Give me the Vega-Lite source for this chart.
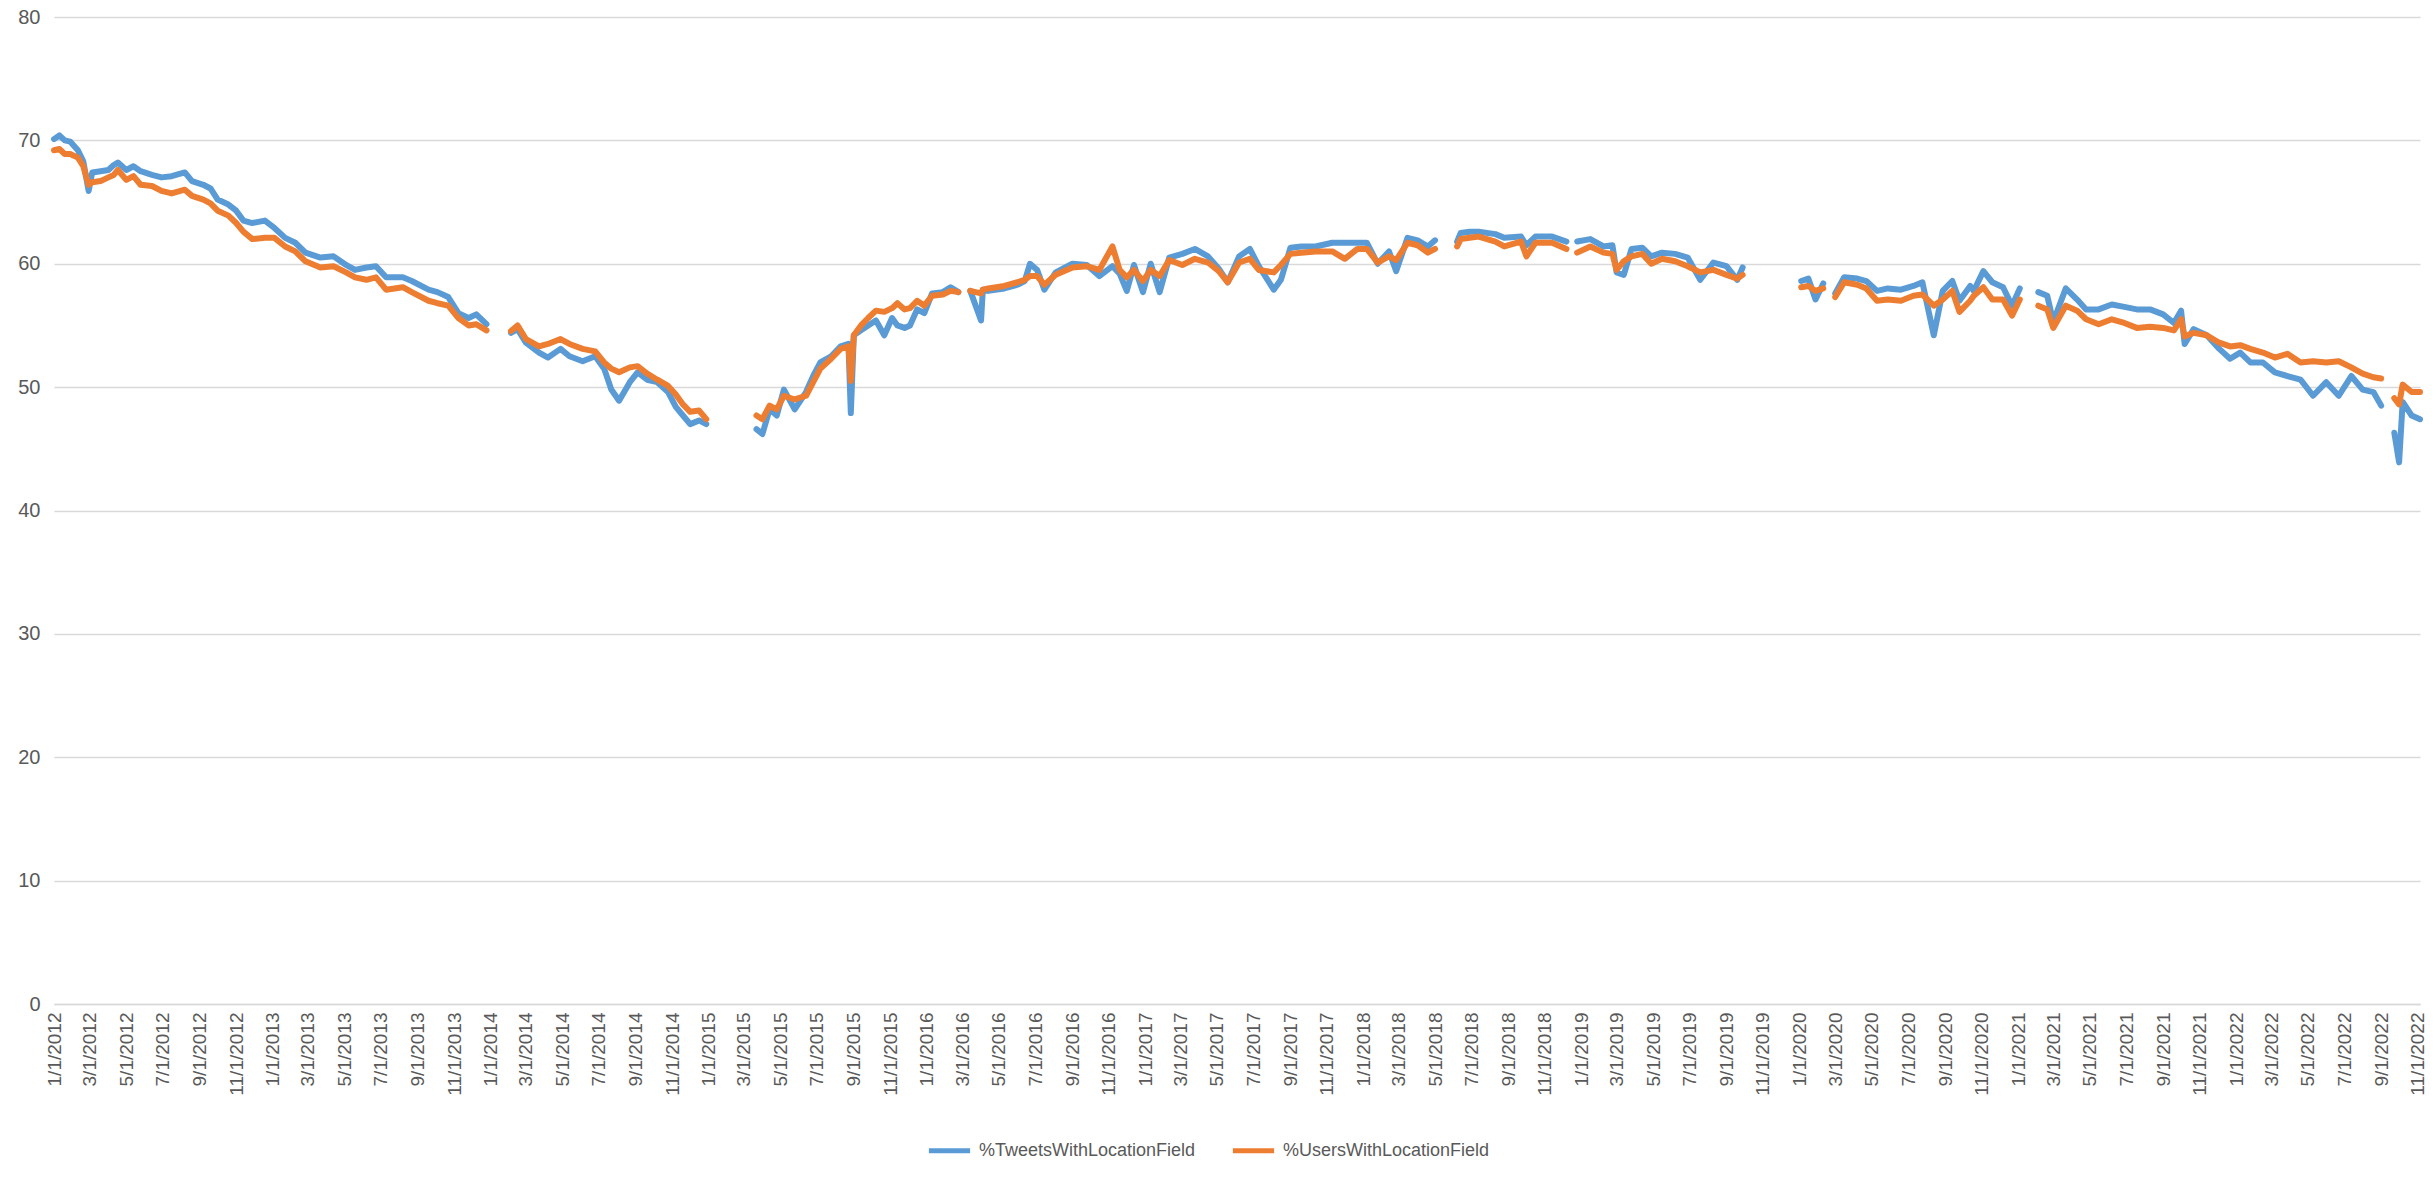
{
  "$schema": "https://vega.github.io/schema/vega-lite/v6.json",
  "width": 2366,
  "height": 987,
  "autosize": {"type": "none"},
  "padding": {"left": 54, "top": 17, "right": 16, "bottom": 174},
  "background": "#FFFFFF",
  "config": {
    "view": {"stroke": null},
    "font": "Liberation Sans",
    "axis": {"labelColor": "#595959", "labelFont": "Liberation Sans", "labelFontSize": 19, "title": null},
    "legend": {"labelColor": "#595959", "labelFont": "Liberation Sans", "labelFontSize": 18, "labelLimit": 0}
  },
  "data": {
    "values": [
      {"d":"2012-01-01","t":70.1,"u":69.2},
      {"d":"2012-01-10","t":70.4,"u":69.3},
      {"d":"2012-01-19","t":70.0,"u":68.9},
      {"d":"2012-01-28","t":69.9,"u":68.9},
      {"d":"2012-02-10","t":69.2,"u":68.6},
      {"d":"2012-02-19","t":68.3,"u":67.9},
      {"d":"2012-02-28","t":65.9,"u":66.4},
      {"d":"2012-03-05","t":67.4,"u":66.6},
      {"d":"2012-03-19","t":67.5,"u":66.7},
      {"d":"2012-04-01","t":67.6,"u":67.0},
      {"d":"2012-04-10","t":68.0,"u":67.2},
      {"d":"2012-04-17","t":68.2,"u":67.6},
      {"d":"2012-05-01","t":67.6,"u":66.8},
      {"d":"2012-05-13","t":67.9,"u":67.1},
      {"d":"2012-05-25","t":67.5,"u":66.4},
      {"d":"2012-06-13","t":67.2,"u":66.3},
      {"d":"2012-06-29","t":67.0,"u":65.9},
      {"d":"2012-07-16","t":67.1,"u":65.7},
      {"d":"2012-08-07","t":67.4,"u":66.0},
      {"d":"2012-08-19","t":66.7,"u":65.5},
      {"d":"2012-09-07","t":66.4,"u":65.2},
      {"d":"2012-09-19","t":66.1,"u":64.9},
      {"d":"2012-10-01","t":65.2,"u":64.3},
      {"d":"2012-10-19","t":64.8,"u":63.9},
      {"d":"2012-11-01","t":64.3,"u":63.3},
      {"d":"2012-11-13","t":63.5,"u":62.6},
      {"d":"2012-11-28","t":63.3,"u":62.0},
      {"d":"2012-12-19","t":63.5,"u":62.1},
      {"d":"2013-01-04","t":62.9,"u":62.1},
      {"d":"2013-01-22","t":62.1,"u":61.4},
      {"d":"2013-02-08","t":61.7,"u":61.0},
      {"d":"2013-02-25","t":60.9,"u":60.2},
      {"d":"2013-03-22","t":60.5,"u":59.7},
      {"d":"2013-04-13","t":60.6,"u":59.8},
      {"d":"2013-05-04","t":59.9,"u":59.3},
      {"d":"2013-05-19","t":59.5,"u":58.9},
      {"d":"2013-06-07","t":59.7,"u":58.7},
      {"d":"2013-06-23","t":59.8,"u":58.9},
      {"d":"2013-07-10","t":58.9,"u":57.9},
      {"d":"2013-08-07","t":58.9,"u":58.1},
      {"d":"2013-08-22","t":58.6,"u":57.7},
      {"d":"2013-09-19","t":57.9,"u":57.0},
      {"d":"2013-10-04","t":57.7,"u":56.8},
      {"d":"2013-10-22","t":57.3,"u":56.6},
      {"d":"2013-11-08","t":56.0,"u":55.6},
      {"d":"2013-11-25","t":55.6,"u":55.0},
      {"d":"2013-12-08","t":55.9,"u":55.1},
      {"d":"2013-12-25","t":55.1,"u":54.6},
      {"d":"2014-01-10","t":null,"u":null},
      {"d":"2014-02-04","t":54.4,"u":54.55},
      {"d":"2014-02-15","t":54.7,"u":55.0},
      {"d":"2014-03-01","t":53.6,"u":53.9},
      {"d":"2014-03-23","t":52.8,"u":53.3},
      {"d":"2014-04-07","t":52.4,"u":53.5},
      {"d":"2014-04-28","t":53.1,"u":53.9},
      {"d":"2014-05-13","t":52.5,"u":53.5},
      {"d":"2014-06-04","t":52.1,"u":53.1},
      {"d":"2014-06-25","t":52.5,"u":52.9},
      {"d":"2014-07-10","t":51.5,"u":52.0},
      {"d":"2014-07-22","t":49.8,"u":51.5},
      {"d":"2014-08-04","t":48.9,"u":51.2},
      {"d":"2014-08-22","t":50.4,"u":51.6},
      {"d":"2014-09-04","t":51.2,"u":51.7},
      {"d":"2014-09-20","t":50.6,"u":51.1},
      {"d":"2014-10-07","t":50.4,"u":50.6},
      {"d":"2014-10-25","t":49.6,"u":50.1},
      {"d":"2014-11-07","t":48.4,"u":49.4},
      {"d":"2014-11-19","t":47.7,"u":48.6},
      {"d":"2014-12-01","t":47.0,"u":48.0},
      {"d":"2014-12-16","t":47.3,"u":48.1},
      {"d":"2014-12-28","t":47.0,"u":47.4},
      {"d":"2015-02-10","t":null,"u":null},
      {"d":"2015-03-22","t":46.6,"u":47.7},
      {"d":"2015-04-01","t":46.2,"u":47.4},
      {"d":"2015-04-13","t":48.2,"u":48.5},
      {"d":"2015-04-25","t":47.7,"u":48.2},
      {"d":"2015-05-07","t":49.8,"u":49.3},
      {"d":"2015-05-25","t":48.2,"u":49.0},
      {"d":"2015-06-13","t":49.6,"u":49.3},
      {"d":"2015-06-25","t":50.9,"u":50.4},
      {"d":"2015-07-07","t":52.0,"u":51.5},
      {"d":"2015-07-25","t":52.5,"u":52.3},
      {"d":"2015-08-10","t":53.3,"u":53.1},
      {"d":"2015-08-23","t":53.5,"u":53.3},
      {"d":"2015-08-27","t":47.9,"u":50.5},
      {"d":"2015-09-01","t":54.2,"u":54.2},
      {"d":"2015-09-13","t":54.6,"u":55.0},
      {"d":"2015-09-25","t":55.0,"u":55.6},
      {"d":"2015-10-08","t":55.4,"u":56.2},
      {"d":"2015-10-22","t":54.2,"u":56.1},
      {"d":"2015-11-04","t":55.6,"u":56.4},
      {"d":"2015-11-13","t":55.0,"u":56.8},
      {"d":"2015-11-25","t":54.8,"u":56.3},
      {"d":"2015-12-04","t":55.0,"u":56.4},
      {"d":"2015-12-16","t":56.3,"u":57.0},
      {"d":"2015-12-28","t":56.0,"u":56.6},
      {"d":"2016-01-10","t":57.6,"u":57.4},
      {"d":"2016-01-28","t":57.7,"u":57.5},
      {"d":"2016-02-10","t":58.1,"u":57.8},
      {"d":"2016-02-23","t":57.7,"u":57.7},
      {"d":"2016-03-03","t":null,"u":null},
      {"d":"2016-03-14","t":57.8,"u":57.8},
      {"d":"2016-04-01","t":55.4,"u":57.6},
      {"d":"2016-04-04","t":57.9,"u":57.9},
      {"d":"2016-04-13","t":57.8,"u":58.0},
      {"d":"2016-05-10","t":58.0,"u":58.2},
      {"d":"2016-06-01","t":58.3,"u":58.5},
      {"d":"2016-06-13","t":58.6,"u":58.7},
      {"d":"2016-06-22","t":60.0,"u":59.0},
      {"d":"2016-07-04","t":59.5,"u":59.0},
      {"d":"2016-07-16","t":57.9,"u":58.3},
      {"d":"2016-08-04","t":59.3,"u":59.1},
      {"d":"2016-09-01","t":60.0,"u":59.7},
      {"d":"2016-09-25","t":59.9,"u":59.8},
      {"d":"2016-10-16","t":59.0,"u":59.5},
      {"d":"2016-11-07","t":59.8,"u":61.4},
      {"d":"2016-11-19","t":59.2,"u":59.5},
      {"d":"2016-12-01","t":57.8,"u":58.9},
      {"d":"2016-12-13","t":59.9,"u":59.5},
      {"d":"2016-12-28","t":57.7,"u":58.6},
      {"d":"2017-01-10","t":60.0,"u":59.5},
      {"d":"2017-01-25","t":57.7,"u":59.0},
      {"d":"2017-02-10","t":60.5,"u":60.3},
      {"d":"2017-03-04","t":60.8,"u":59.9},
      {"d":"2017-03-25","t":61.2,"u":60.4},
      {"d":"2017-04-16","t":60.6,"u":60.1},
      {"d":"2017-05-04","t":59.6,"u":59.4},
      {"d":"2017-05-19","t":58.5,"u":58.5},
      {"d":"2017-06-07","t":60.6,"u":60.1},
      {"d":"2017-06-25","t":61.2,"u":60.4},
      {"d":"2017-07-10","t":59.8,"u":59.5},
      {"d":"2017-08-04","t":57.9,"u":59.3},
      {"d":"2017-08-16","t":58.7,"u":59.9},
      {"d":"2017-09-01","t":61.3,"u":60.8},
      {"d":"2017-09-19","t":61.4,"u":60.9},
      {"d":"2017-10-13","t":61.4,"u":61.0},
      {"d":"2017-11-10","t":61.7,"u":61.0},
      {"d":"2017-12-01","t":61.7,"u":60.4},
      {"d":"2017-12-22","t":61.7,"u":61.2},
      {"d":"2018-01-07","t":61.7,"u":61.2},
      {"d":"2018-01-25","t":60.0,"u":60.1},
      {"d":"2018-02-13","t":61.0,"u":60.6},
      {"d":"2018-02-25","t":59.4,"u":60.3},
      {"d":"2018-03-16","t":62.1,"u":61.7},
      {"d":"2018-04-02","t":61.9,"u":61.5},
      {"d":"2018-04-19","t":61.4,"u":60.9},
      {"d":"2018-05-01","t":61.9,"u":61.2},
      {"d":"2018-05-15","t":null,"u":null},
      {"d":"2018-06-07","t":61.8,"u":61.4},
      {"d":"2018-06-13","t":62.5,"u":62.0},
      {"d":"2018-06-28","t":62.6,"u":62.1},
      {"d":"2018-07-13","t":62.6,"u":62.2},
      {"d":"2018-08-10","t":62.4,"u":61.8},
      {"d":"2018-08-25","t":62.1,"u":61.4},
      {"d":"2018-09-22","t":62.2,"u":61.8},
      {"d":"2018-10-01","t":61.5,"u":60.6},
      {"d":"2018-10-16","t":62.2,"u":61.7},
      {"d":"2018-11-13","t":62.2,"u":61.7},
      {"d":"2018-12-07","t":61.8,"u":61.2},
      {"d":"2018-12-15","t":null,"u":null},
      {"d":"2018-12-25","t":61.8,"u":60.9},
      {"d":"2019-01-16","t":62.0,"u":61.4},
      {"d":"2019-02-07","t":61.4,"u":60.9},
      {"d":"2019-02-22","t":61.5,"u":60.8},
      {"d":"2019-03-01","t":59.3,"u":59.5},
      {"d":"2019-03-13","t":59.1,"u":60.2},
      {"d":"2019-03-26","t":61.2,"u":60.6},
      {"d":"2019-04-13","t":61.3,"u":60.8},
      {"d":"2019-04-28","t":60.6,"u":60.0},
      {"d":"2019-05-16","t":60.9,"u":60.4},
      {"d":"2019-06-07","t":60.8,"u":60.2},
      {"d":"2019-06-28","t":60.5,"u":59.8},
      {"d":"2019-07-19","t":58.7,"u":59.3},
      {"d":"2019-08-10","t":60.1,"u":59.5},
      {"d":"2019-09-01","t":59.8,"u":59.1},
      {"d":"2019-09-19","t":58.7,"u":58.8},
      {"d":"2019-09-28","t":59.7,"u":59.1},
      {"d":"2019-11-15","t":null,"u":null},
      {"d":"2020-01-04","t":58.6,"u":58.1},
      {"d":"2020-01-16","t":58.8,"u":58.2},
      {"d":"2020-01-28","t":57.1,"u":57.8},
      {"d":"2020-02-10","t":58.4,"u":58.0},
      {"d":"2020-02-20","t":null,"u":null},
      {"d":"2020-03-01","t":57.6,"u":57.3},
      {"d":"2020-03-16","t":58.9,"u":58.5},
      {"d":"2020-04-07","t":58.8,"u":58.3},
      {"d":"2020-04-22","t":58.6,"u":58.0},
      {"d":"2020-05-10","t":57.8,"u":57.0},
      {"d":"2020-05-28","t":58.0,"u":57.1},
      {"d":"2020-06-19","t":57.9,"u":57.0},
      {"d":"2020-07-10","t":58.2,"u":57.4},
      {"d":"2020-07-25","t":58.5,"u":57.5},
      {"d":"2020-08-13","t":54.2,"u":56.6},
      {"d":"2020-08-28","t":57.8,"u":57.1},
      {"d":"2020-09-13","t":58.6,"u":57.8},
      {"d":"2020-09-25","t":57.0,"u":56.1},
      {"d":"2020-10-13","t":58.2,"u":57.0},
      {"d":"2020-10-19","t":57.8,"u":57.4},
      {"d":"2020-11-04","t":59.4,"u":58.1},
      {"d":"2020-11-19","t":58.5,"u":57.1},
      {"d":"2020-12-07","t":58.1,"u":57.1},
      {"d":"2020-12-22","t":56.6,"u":55.8},
      {"d":"2021-01-04","t":58.0,"u":57.1},
      {"d":"2021-01-15","t":null,"u":null},
      {"d":"2021-02-04","t":57.7,"u":56.6},
      {"d":"2021-02-19","t":57.4,"u":56.3},
      {"d":"2021-03-01","t":55.3,"u":54.8},
      {"d":"2021-03-22","t":58.0,"u":56.6},
      {"d":"2021-04-10","t":57.1,"u":56.2},
      {"d":"2021-04-25","t":56.3,"u":55.5},
      {"d":"2021-05-16","t":56.3,"u":55.1},
      {"d":"2021-06-07","t":56.7,"u":55.5},
      {"d":"2021-06-28","t":56.5,"u":55.2},
      {"d":"2021-07-19","t":56.3,"u":54.8},
      {"d":"2021-08-10","t":56.3,"u":54.9},
      {"d":"2021-09-01","t":55.9,"u":54.8},
      {"d":"2021-09-19","t":55.2,"u":54.6},
      {"d":"2021-10-01","t":56.2,"u":55.5},
      {"d":"2021-10-07","t":53.5,"u":54.1},
      {"d":"2021-10-22","t":54.7,"u":54.4},
      {"d":"2021-11-13","t":54.2,"u":54.2},
      {"d":"2021-12-04","t":53.1,"u":53.6},
      {"d":"2021-12-22","t":52.3,"u":53.3},
      {"d":"2022-01-08","t":52.8,"u":53.4},
      {"d":"2022-01-25","t":52.0,"u":53.1},
      {"d":"2022-02-15","t":52.0,"u":52.8},
      {"d":"2022-03-07","t":51.2,"u":52.4},
      {"d":"2022-03-28","t":50.9,"u":52.7},
      {"d":"2022-04-19","t":50.6,"u":52.0},
      {"d":"2022-05-10","t":49.3,"u":52.1},
      {"d":"2022-06-01","t":50.4,"u":52.0},
      {"d":"2022-06-22","t":49.3,"u":52.1},
      {"d":"2022-07-13","t":50.9,"u":51.6},
      {"d":"2022-08-01","t":49.8,"u":51.1},
      {"d":"2022-08-19","t":49.6,"u":50.8},
      {"d":"2022-09-01","t":48.5,"u":50.7},
      {"d":"2022-09-10","t":null,"u":null},
      {"d":"2022-09-23","t":46.3,"u":49.1},
      {"d":"2022-10-01","t":43.9,"u":48.6},
      {"d":"2022-10-07","t":48.8,"u":50.2},
      {"d":"2022-10-22","t":47.7,"u":49.6},
      {"d":"2022-11-05","t":47.4,"u":49.6}
    ]
  },
  "encoding": {
    "x": {
      "field": "d",
      "type": "temporal",
      "scale": {"type": "utc", "domain": [{"year": 2012, "month": 1, "date": 1, "utc": true}, {"year": 2022, "month": 11, "date": 5, "utc": true}]},
      "axis": {
        "tickCount": {"interval": "month", "step": 2},
        "format": "%-m/%-d/%Y",
        "labelAngle": -90,
        "labelOverlap": false,
        "labelFlush": false,
        "labelPadding": 8,
        "grid": false,
        "ticks": false,
        "domainColor": "#D9D9D9",
        "domainWidth": 1.5
      }
    }
  },
  "layer": [
    {
      "mark": {"type": "line", "strokeWidth": 6, "strokeJoin": "round", "strokeCap": "round", "invalid": "break-paths-show-domains"},
      "encoding": {
        "y": {
          "field": "t",
          "type": "quantitative",
          "scale": {"domain": [0, 80], "nice": false, "zero": true},
          "axis": {"values": [0, 10, 20, 30, 40, 50, 60, 70, 80], "domain": false, "ticks": false, "gridColor": "#D9D9D9", "gridWidth": 1.5, "labelPadding": 14, "labelFontSize": 20}
        },
        "color": {
          "datum": "%TweetsWithLocationField",
          "type": "nominal",
          "scale": {"domain": ["%TweetsWithLocationField", "%UsersWithLocationField"], "range": ["#5B9BD5", "#ED7D31"]},
          "legend": {"orient": "none", "legendX": 872, "legendY": 1110, "direction": "horizontal", "title": null, "symbolType": "stroke", "symbolSize": 1700, "symbolStrokeWidth": 5, "labelOffset": 6, "columnPadding": 26, "padding": 0, "labelLimit": 0}
        }
      }
    },
    {
      "mark": {"type": "line", "strokeWidth": 6, "strokeJoin": "round", "strokeCap": "round", "invalid": "break-paths-show-domains"},
      "encoding": {
        "y": {"field": "u", "type": "quantitative"},
        "color": {"datum": "%UsersWithLocationField", "type": "nominal"}
      }
    }
  ]
}
